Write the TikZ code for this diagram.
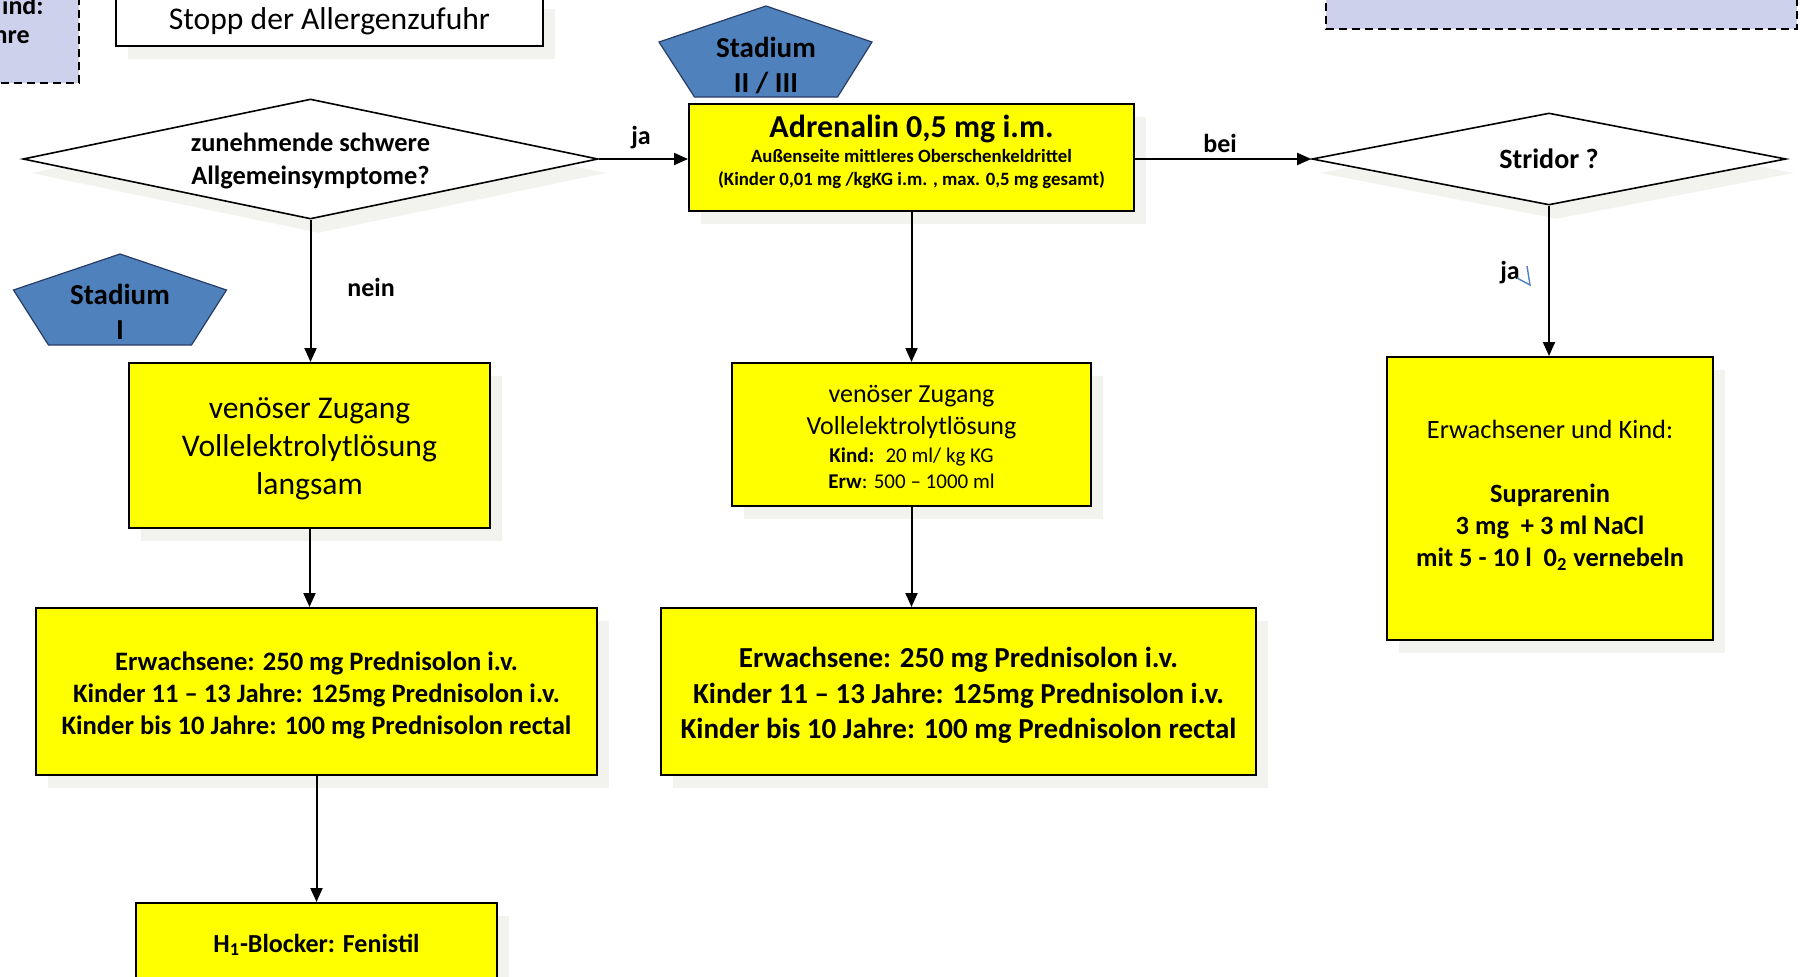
\documentclass[tikz,border=0pt]{standalone}
\usepackage{fontspec}
\setmainfont{Carlito}
\usetikzlibrary{arrows.meta,shadows,shapes.geometric}
\definecolor{shd}{RGB}{242,242,238}
\definecolor{lav}{RGB}{205,209,236}
\definecolor{pentblue}{RGB}{79,129,189}
\definecolor{pentedge}{RGB}{40,60,100}
\definecolor{markblue}{RGB}{79,129,189}
\definecolor{boxyellow}{RGB}{255,255,0}
\begin{document}
\begin{tikzpicture}[x=0.5pt,y=-0.5pt,
  ybox/.style={draw, line width=1pt, fill=boxyellow, align=center, inner sep=0pt,
     drop shadow={shadow xshift=6pt, shadow yshift=-6.5pt, fill=shd, opacity=1}},
  wbox/.style={ybox, fill=white},
  dbox/.style={draw, line width=1pt, dash pattern=on 4pt off 2.5pt, fill=lav},
  decide/.style={diamond, draw, line width=0.8pt, fill=white, inner sep=0pt, align=center,
     font=\bfseries\fontsize{13.2}{16.5}\selectfont,
     drop shadow={shadow xshift=4pt, shadow yshift=-7pt, fill=shd, opacity=1}},
  pent/.style={draw=pentedge, line width=0.6pt, fill=pentblue},
  pentlbl/.style={align=center, inner sep=0pt, font=\bfseries\fontsize{14.5}{17.5}\selectfont},
  lbl/.style={inner sep=0pt, font=\bfseries\fontsize{13}{15}\selectfont},
  boxtxt/.style={align=center, inner sep=0pt},
  arr/.style={line width=1pt, -{Triangle[length=7pt,width=6pt]}},
]
\useasboundingbox (0,0) rectangle (1800,976);
\fill[white] (0,0) rectangle (1800,976);

% dashed boxes (partly outside)
\path[dbox] (-10,-10) rectangle (79,83);
\node[lbl, anchor=east] (tl1) at (44,5) {ind:};
\node[lbl, anchor=east] (tl2) at (30,34) {hre};
\path[dbox] (1326,-10) rectangle (1797,29);

% Stopp box
\node[wbox, minimum width=213.5pt, minimum height=25pt, font=\fontsize{15.8}{19}\selectfont]
  (stopp) at (329.5,21) {Stopp der Allergenzufuhr};

% pentagons
\path[pent] (766,6) -- (872,42) -- (837.5,97) -- (694.5,97) -- (659,42) -- cycle;
\node[pentlbl] (st2) at (766,65) {Stadium\\II / III};
\path[pent] (120,254) -- (226.5,290) -- (191.5,345) -- (48.5,345) -- (13.5,290) -- cycle;
\node[pentlbl] (st1) at (120,312) {Stadium\\I};

% decisions
\node[decide, aspect=4.79, minimum width=287.5pt, minimum height=60pt]
  (d1) at (310.5,159) {};
\node[boxtxt, font=\bfseries\fontsize{13.2}{16.5}\selectfont] (d1txt) at (310.5,160.5)
  {zunehmende schwere\\Allgemeinsymptome?};
\node[decide, aspect=5.15, minimum width=237pt, minimum height=46pt,
  font=\bfseries\fontsize{14}{17}\selectfont] (d2) at (1549,159) {Stridor ?};

% Adrenalin
\node[ybox, minimum width=222.5pt, minimum height=53.5pt] (adr) at (911.5,157.5) {};
\node[boxtxt, font=\bfseries\fontsize{9.4}{11.5}\selectfont] (adrtxt) at (911.5,152)
  {{\fontsize{16}{19}\selectfont Adrenalin 0,5 mg i.m.}\\[1.3pt]
   Außenseite mittleres Oberschenkeldrittel\\
   (Kinder 0,01 mg /kgKG i.m. , max. 0,5 mg gesamt)};

% venous access
\node[ybox, minimum width=180.5pt, minimum height=82.5pt] (venL) at (309.5,445.5) {};
\node[boxtxt, font=\fontsize{15.8}{18.9}\selectfont] (venLtxt) at (309.5,449)
  {venöser Zugang\\Vollelektrolytlösung\\langsam};
\node[ybox, minimum width=179.5pt, minimum height=71.5pt] (venM) at (911.5,434.5) {};
\node[boxtxt, font=\fontsize{10.5}{13.2}\selectfont] (venMtxt) at (911.5,437)
  {{\fontsize{13}{15.5}\selectfont venöser Zugang}\\[2.8pt]
   {\fontsize{13}{15.5}\selectfont Vollelektrolytlösung}\\[0.5pt]
   \textbf{Kind:}~ 20 ml/ kg KG\\
   \textbf{Erw}: 500 – 1000 ml};

% Prednisolon
\node[ybox, minimum width=280.5pt, minimum height=83.5pt] (predL) at (316.5,691.5) {};
\node[boxtxt, font=\bfseries\fontsize{13.3}{16}\selectfont] (predLtxt) at (316.5,695)
  {Erwachsene: 250 mg Prednisolon i.v.\\Kinder 11 – 13 Jahre: 125mg Prednisolon i.v.\\Kinder bis 10 Jahre: 100 mg Prednisolon rectal};
\node[ybox, minimum width=297.5pt, minimum height=83.5pt] (predM) at (958.5,691.5) {};
\node[boxtxt, font=\bfseries\fontsize{14.5}{17.8}\selectfont] (predMtxt) at (958.5,695.5)
  {Erwachsene: 250 mg Prednisolon i.v.\\Kinder 11 – 13 Jahre: 125mg Prednisolon i.v.\\Kinder bis 10 Jahre: 100 mg Prednisolon rectal};

% H1
\node[ybox, minimum width=180.5pt, minimum height=42pt, font=\bfseries\fontsize{13}{16}\selectfont]
  (h1) at (316.5,945) {H\textsubscript{1}-Blocker: Fenistil};

% Suprarenin
\node[ybox, minimum width=163pt, minimum height=141.5pt] (supra) at (1550,498.5) {};
\node[boxtxt, font=\bfseries\fontsize{13.2}{16}\selectfont] (supratxt) at (1550,495)
  {{\mdseries Erwachsener und Kind:}\\ \\Suprarenin\\3 mg~ + 3 ml NaCl\\mit 5 - 10 l~ 0\textsubscript{2} vernebeln};

% connectors
\draw[arr] (d1.east) -- (d1.east -| adr.west);
\draw[arr] (adr.east |- d2.west) -- (d2.west);
\draw[arr] (d1.south) -- (d1.south |- venL.north);
\draw[arr] (venL.south) -- (venL.south |- predL.north);
\draw[arr] (predL.south) -- (predL.south |- h1.north);
\draw[arr] (adr.south) -- (adr.south |- venM.north);
\draw[arr] (venM.south) -- (venM.south |- predM.north);
\draw[arr] (d2.south) -- (d2.south |- supra.north);

% labels
\node[lbl] (lja1) at (641,138) {ja};
\node[lbl] (lbei) at (1220,143) {bei};
\node[lbl] (lnein) at (371,287) {nein};
\node[lbl] (lja2) at (1510,273) {ja};
\draw[markblue, line width=0.7pt] (1517,278) -- (1530,285) -- (1527,266);
\end{tikzpicture}
\end{document}
